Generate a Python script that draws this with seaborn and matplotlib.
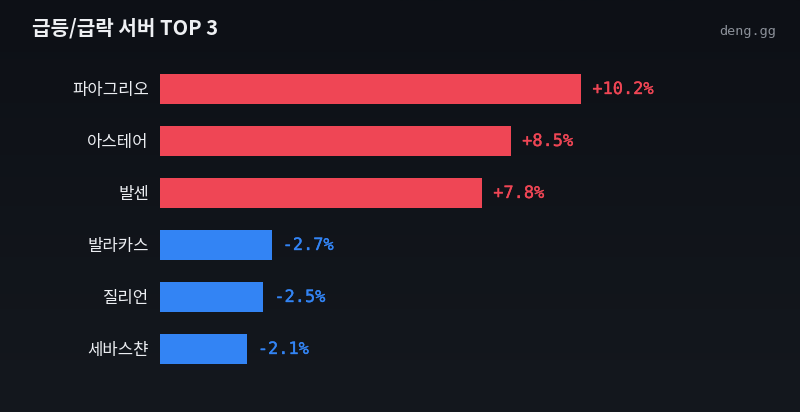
import numpy as np
import pandas as pd
import matplotlib
matplotlib.use("Agg")
import matplotlib.pyplot as plt
import matplotlib.patheffects as pe
import seaborn as sns

# data
servers = ["파아그리오", "아스테어", "발센", "발라카스", "질리언", "세바스챤"]
changes = [10.2, 8.5, 7.8, -2.7, -2.5, -2.1]

UP = "#ef4655"
DOWN = "#3384f4"
BG_TOP = "#0d1016"
BG_BOTTOM = "#14181e"

sns.set_style("dark")
plt.rcParams["font.family"] = ["Noto Sans CJK KR", "DejaVu Sans"]

df = pd.DataFrame({"server": servers, "change": changes})
df["size"] = df["change"].abs()
df["dir"] = np.where(df["change"] > 0, "up", "down")

fig = plt.figure(figsize=(8, 4.12), dpi=100)

# background gradient
bg = fig.add_axes([0, 0, 1, 1])
bg.imshow(np.linspace(0, 1, 256).reshape(-1, 1), aspect="auto",
          cmap=matplotlib.colors.LinearSegmentedColormap.from_list("bg", [BG_TOP, BG_BOTTOM]),
          extent=[0, 1, 0, 1])
bg.set_axis_off()

W, H = 800, 412
left, right, top, bottom = 160, 760, 63, 375
ax = fig.add_axes([left / W, 1 - bottom / H, (right - left) / W, (bottom - top) / H])
ax.patch.set_alpha(0)

sns.barplot(data=df, x="size", y="server", hue="dir", palette={"up": UP, "down": DOWN},
            width=30 / 52, dodge=False, legend=False, ax=ax, saturation=1, linewidth=0)

ax.set_xlim(0, (right - left) / 41.3)
ax.set_ylim(5.5, -0.5)
ax.set_xlabel("")
ax.set_ylabel("")
ax.set_xticks([])
ax.grid(False)
for s in ax.spines.values():
    s.set_visible(False)
ax.tick_params(axis="y", length=0, pad=8, labelsize=12, labelcolor="#eceef2")
for t in ax.get_yticklabels():
    t.set_fontweight("medium")

# value labels just past the bar ends (very thin stroke, slightly heavier than regular)
for i, (v, sz) in enumerate(zip(changes, df["size"])):
    c = UP if v > 0 else DOWN
    ax.annotate(f"{v:+.1f}%", (sz, i), xytext=(8, 0), textcoords="offset points",
                va="center", ha="left", fontsize=12.2,
                family="DejaVu Sans Mono", color=c,
                path_effects=[pe.withStroke(linewidth=0.25, foreground=c)])

fig.text(32 / W, 1 - 28 / H, "급등/급락 서버 TOP 3", ha="left", va="center",
         fontsize=14.5, fontweight="bold", color="#eef0f3")
fig.text(776 / W, 1 - 31 / H, "deng.gg", ha="right", va="center",
         fontsize=9.7, family="DejaVu Sans Mono", color="#8b9099")

fig.savefig("out.png", dpi=100, facecolor=BG_TOP)
